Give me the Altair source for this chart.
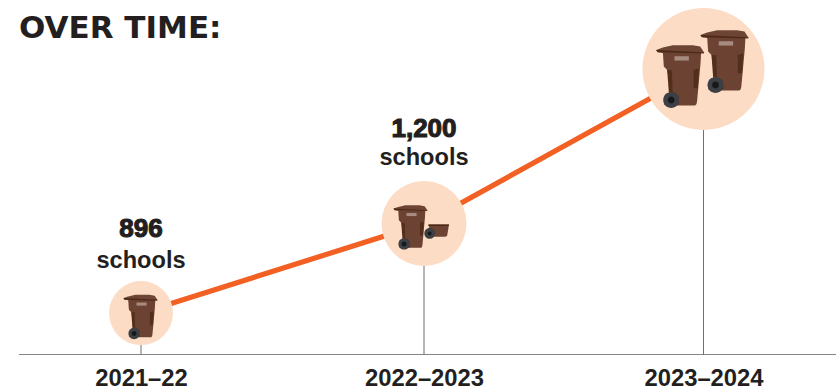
import altair as alt
import pandas as pd

# Values shown on the chart
years = ["2021–22", "2022–2023", "2023–2024"]
year_starts = [2021, 2022, 2023]
schools = [896, 1200, 1725]
labels = ["896", "1,200", ""]

INK = "#231f20"
ORANGE = "#f26024"
PEACH = "#fddcc6"

df = pd.DataFrame({"start": year_starts, "year": years, "schools": schools, "label": labels})

year_names = ", ".join(f"{s}: '{y}'" for s, y in zip(year_starts, years))
x_enc = alt.X("start:Q",
              scale=alt.Scale(domain=year_starts, range=[141, 424, 703.5]),
              axis=alt.Axis(title=None, domain=False, ticks=False, grid=False,
                            values=year_starts, labelExpr=f"{{{year_names}}}[datum.value]",
                            labelAngle=0, labelFont="Liberation Sans",
                            labelFontWeight="bold", labelFontSize=23.8,
                            labelColor=INK, labelPadding=12, labelFlush=False,
                            labelOverlap=False))
y_enc = alt.Y("schools:Q", scale=alt.Scale(domain=[757, 1959]), axis=None)

# Unit-square outlines for the wheeled bin, drawn part by part
BODY = "M-.546 -.74L.71 -.74L.69 -.383L.58 .82C.57 .95 .55 1 .48 1L-.2 1L-.26 .7L-.404 -.164L-.514 -.273Z"
LID = "M-.765 -.82L-.546 -.896L-.219 -.973L.437 -.973L.678 -.929L.809 -.732L-.546 -.72L-.721 -.754Z"
LID_EDGE = "M-.765 -.82L.809 -.745L.8 -.7L-.72 -.74Z"
STRIP_L = "M-.404 -.164L-.25 -.164L-.22 .6L-.35 .58Z"
STRIP_R = "M.459 -.164L.634 -.22L.6 .437L.459 .437Z"
ARCH = "M-.5 .72A.27 .27 0 0 1 -.02 .72L-.02 .98L-.5 .98Z"
PLATE = "M-.164 -.612L.306 -.612L.306 -.47L-.164 -.47Z"
WHEEL = "M-.535 .82A.262 .262 0 1 0 -.011 .82A.262 .262 0 1 0 -.535 .82Z"
HUB = "M-.385 .82A.112 .112 0 1 0 -.161 .82A.112 .112 0 1 0 -.385 .82Z"
BIN_PARTS = [(BODY, "#6c4332"), (LID, "#6e4534"), (LID_EDGE, "#4c2a18"),
             (STRIP_L, "#532f1b"), (STRIP_R, "#532f1b"), (ARCH, "#4c2a18"),
             (PLATE, "#a78b80"), (WHEEL, "#3c4044"), (HUB, "#17181a")]

# Low cart beside the bin on the middle bubble
CART = "M-.46 -.29L.494 -.29L.417 .2C.41 .25 .36 .278 .31 .278L-.31 .278Z"
CART_BAND = "M-.46 -.29L.494 -.29L.485 -.22L-.45 -.22Z"
CART_WHEEL = "M-.647 .123A.247 .247 0 1 0 -.153 .123A.247 .247 0 1 0 -.647 .123Z"
CART_HUB = "M-.49 .123A.09 .09 0 1 0 -.31 .123A.09 .09 0 1 0 -.49 .123Z"
CART_PARTS = [(CART, "#6c4332"), (CART_BAND, "#4c2a18"),
              (CART_WHEEL, "#3c4044"), (CART_HUB, "#17181a")]


def glyph(parts, year, half, dx, dy):
    """Stack a glyph's filled outlines at a year's point; half is half its side in px."""
    row = df[df.year == year]
    return [
        alt.Chart(row).mark_point(shape=path, filled=True, fill=color, opacity=1,
                                  strokeWidth=0, size=(2 * half) ** 2,
                                  xOffset=dx, yOffset=dy)
        .encode(x=x_enc, y=y_enc)
        for path, color in parts
    ]


base = alt.Chart(df)

baseline = alt.Chart(df.head(1)).mark_rule(color="#858585", strokeWidth=1).encode(
    x=alt.value(19), x2=alt.value(836), y=alt.value(354.5))

stems = base.mark_rule(color="#6f6f6f", strokeWidth=1).encode(
    x=x_enc, y=y_enc, y2=alt.value(355))

trend = base.mark_line(color=ORANGE, strokeWidth=5.2).encode(x=x_enc, y=y_enc)

bubbles = base.mark_circle(color=PEACH, opacity=1).encode(
    x=x_enc, y=y_enc,
    size=alt.Size("schools:Q", legend=None,
                  scale=alt.Scale(domain=schools, range=[4096, 7225, 14884])))

glyphs = (
    glyph(BIN_PARTS, years[0], 21.6, -1, 2.7)
    + glyph(BIN_PARTS, years[1], 21.6, -14, 2.7)
    + glyph(CART_PARTS, years[1], 21.6, 14.3, 7.2)
    + glyph(BIN_PARTS, years[2], 30.5, 20.3, -9)
    + glyph(BIN_PARTS, years[2], 30.5, -24, 6)
)


def value_label(i, count_offset, word_offset):
    row = df.iloc[[i]]
    count = alt.Chart(row).mark_text(
        font="Liberation Sans", fontWeight="bold", fontSize=26, color=INK,
        stroke=INK, strokeWidth=1.1, baseline="alphabetic", yOffset=count_offset
    ).encode(x=x_enc, y=y_enc, text="label:N")
    word = alt.Chart(row).mark_text(
        font="Liberation Sans", fontWeight="bold", fontSize=23.6, color=INK,
        baseline="alphabetic", yOffset=word_offset, text="schools"
    ).encode(x=x_enc, y=y_enc)
    return [count, word]


heading = alt.Chart(df.head(1)).mark_text(
    font="DejaVu Sans", fontWeight="bold", fontSize=31, color=INK,
    align="left", baseline="alphabetic", text="OVER TIME:"
).encode(x=alt.value(19), y=alt.value(38))

chart = alt.layer(
    baseline, stems, trend, bubbles, *glyphs,
    *value_label(0, -76, -45), *value_label(1, -87, -58.5),
    heading,
).properties(
    width=836, height=354, autosize="none",
    padding={"left": 0, "right": 0, "top": 0, "bottom": 37},
).configure_view(stroke=None)

chart.save("out.html", embed_options={"renderer": "svg", "actions": False})
